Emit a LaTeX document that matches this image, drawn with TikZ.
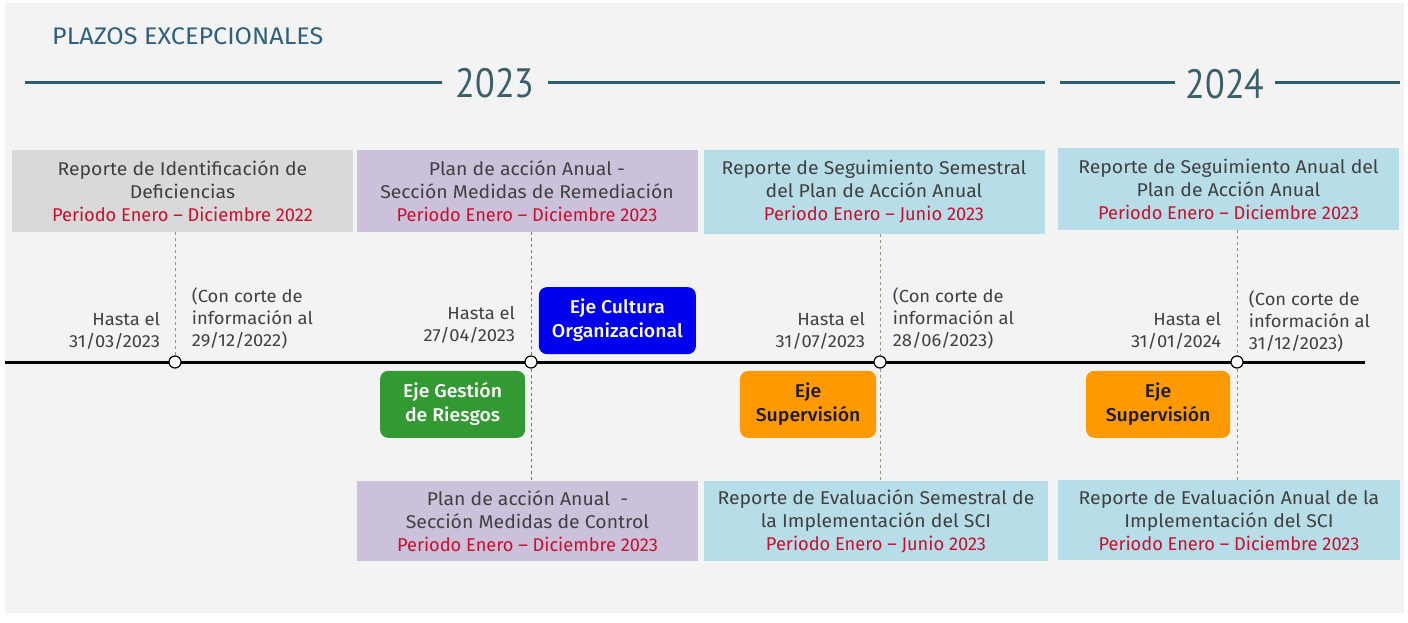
\documentclass[tikz,border=0pt]{standalone}
\usepackage{fontspec}
\setmainfont{Fira Sans}[FakeStretch=1.05]
\newfontfamily\medio{Fira Sans Medium}[FakeStretch=1.05]
\newfontfamily\estrecha{Fira Sans}[FakeStretch=0.985]
\newfontfamily\cifras[FakeStretch=0.88]{PT Sans}
\usetikzlibrary{positioning}

\definecolor{fondo}{HTML}{F2F3F2}
\definecolor{titulo}{HTML}{2E607F}
\definecolor{anio}{HTML}{3B5E68}
\definecolor{raya}{HTML}{2C5F6E}
\definecolor{gris}{HTML}{D9D9D9}
\definecolor{lila}{HTML}{CCC1DA}
\definecolor{celeste}{HTML}{B7DDE8}
\definecolor{texto}{HTML}{404040}
\definecolor{rojo}{HTML}{C8102E}
\definecolor{verde}{HTML}{339933}
\definecolor{azul}{HTML}{0000EE}
\definecolor{naranja}{HTML}{FF9900}
\definecolor{guiaverde}{HTML}{8A977A}
\definecolor{guiaazul}{HTML}{5A78A8}

\newcommand{\periodo}[1]{{\estrecha\textcolor{rojo}{#1}}}

\begin{document}
\begin{tikzpicture}[x=1pt, y=-1pt, font=\fontsize{18.5}{23}\selectfont]
\tikzstyle{reporte}=[minimum width=341pt, minimum height=82pt, inner sep=0pt, align=center, text=texto]
\tikzstyle{eje}=[rounded corners=8pt, minimum height=67pt, inner sep=0pt, align=center, font=\medio\fontsize{18.5}{24}\selectfont]
\tikzstyle{hito}=[circle, draw=black, fill=white, line width=1.2pt, minimum size=12pt, inner sep=0pt]
\tikzstyle{fecha}=[align=right, text=texto, inner sep=0pt, font=\fontsize{17.5}{22}\selectfont]
\tikzstyle{corte}=[align=left, text=texto, inner sep=0pt, font=\fontsize{17.5}{22}\selectfont]
\tikzstyle{guia}=[dash pattern=on 3pt off 3pt, line width=0.9pt, draw=guiaverde]
\tikzstyle{year}=[text=anio, inner xsep=13pt, inner ysep=0pt, font=\cifras\fontsize{41}{41}\selectfont]

\fill[white] (0,0) rectangle (1408,623);
\fill[fondo] (5,3) rectangle (1404,613);
\useasboundingbox (0,0) rectangle (1408,623);

% encabezado
\node[anchor=base west, inner sep=0pt, text=titulo, font=\fontsize{24}{24}\selectfont] (titulo) at (52,45) {PLAZOS EXCEPCIONALES};
\node[year] (a2023) at (495,83) {2023};
\node[year, inner xsep=10pt] (a2024) at (1225,84) {2024};
\coordinate (y0) at (25,83);
\coordinate (y1) at (1045,83);
\coordinate (y2) at (1060,83);
\coordinate (y3) at (1400,83);
\draw[raya, line width=3pt] (y0) -- (a2023.west);
\draw[raya, line width=3pt] (a2023.east) -- (y1);
\draw[raya, line width=3pt] (y2) -- (a2024.west |- y2);
\draw[raya, line width=3pt] (a2024.east |- y3) -- (y3);

% reportes
\node[reporte, fill=gris] (r1) at (182.5,191) {Reporte de Identificación de\\Deficiencias\\\periodo{Periodo Enero – Diciembre 2022}};
\node[reporte, fill=lila] (r2) at (527,191) {Plan de acción Anual -\\Sección Medidas de Remediación\\\periodo{Periodo Enero – Diciembre 2023}};
\node[reporte, fill=celeste, minimum height=84pt] (r3) at (874,192) {Reporte de Seguimiento Semestral\\del Plan de Acción Anual\\\periodo{Periodo Enero – Junio 2023}};
\node[reporte, fill=celeste] (r4) at (1228.5,189) {Reporte de Seguimiento Anual del\\Plan de Acción Anual\\\periodo{Periodo Enero – Diciembre 2023}};
\node[reporte, fill=lila, minimum height=80pt] (r5) at (527.5,521) {Plan de acción Anual \ -\\Sección Medidas de Control\\\periodo{Periodo Enero – Diciembre 2023}};
\node[reporte, fill=celeste, minimum height=80pt, minimum width=344pt] (r6) at (876,521) {Reporte de Evaluación Semestral de\\la Implementación del SCI\\\periodo{Periodo Enero – Junio 2023}};
\node[reporte, fill=celeste, minimum height=80pt, minimum width=342pt] (r7) at (1229,520) {Reporte de Evaluación Anual de la\\Implementación del SCI\\\periodo{Periodo Enero – Diciembre 2023}};

% linea de tiempo
\coordinate (ini) at (5,362);
\coordinate (fin) at (1365,362);
\draw[line width=3pt] (ini) -- (fin);
\node[hito] (h1) at (175,362) {};
\node[hito] (h2) at (531,362) {};
\node[hito] (h3) at (880,362) {};
\node[hito] (h4) at (1237,362) {};

\draw[guia] (r1.south -| h1) -- (h1);
\draw[guia, draw=guiaazul] (r2.south -| h2) -- (h2);
\draw[guia, draw=guiaazul] (h2) -- (r5.north -| h2);
\draw[guia] (r3.south -| h3) -- (h3);
\draw[guia] (h3) -- (r6.north -| h3);
\draw[guia] (r4.south -| h4) -- (h4);
\draw[guia] (h4) -- (r7.north -| h4);

% fechas
\node[fecha, above left=8pt and 10pt of h1] (f1) {Hasta el\\31/03/2023};
\node[corte, above right=8pt and 12pt of h1] (c1) {(Con corte de\\información al\\29/12/2022)};
\node[fecha, above left=14pt and 11pt of h2] (f2) {Hasta el\\27/04/2023};
\node[fecha, above left=8pt and 10pt of h3] (f3) {Hasta el\\31/07/2023};
\node[corte, above right=8pt and 8pt of h3] (c3) {(Con corte de\\información al\\28/06/2023)};
\node[fecha, above left=8pt and 11pt of h4] (f4) {Hasta el\\31/01/2024};
\node[corte, above right=5pt and 7pt of h4] (c4) {(Con corte de\\información al\\31/12/2023)};

% ejes
\node[eje, fill=azul, text=white, minimum width=157pt, above right=3pt and 3pt of h2] (e1) {Eje Cultura\\Organizacional};
\node[eje, fill=verde, text=white, minimum width=145pt, below left=4pt and 1pt of h2] (e2) {Eje Gestión\\de Riesgos};
\node[eje, fill=naranja, text=black!90, minimum width=136pt, below left=4pt and -1pt of h3] (e3) {Eje\\Supervisión};
\node[eje, fill=naranja, text=black!90, minimum width=144pt, below left=4pt and 2pt of h4] (e4) {Eje\\Supervisión};
\end{tikzpicture}
\end{document}
